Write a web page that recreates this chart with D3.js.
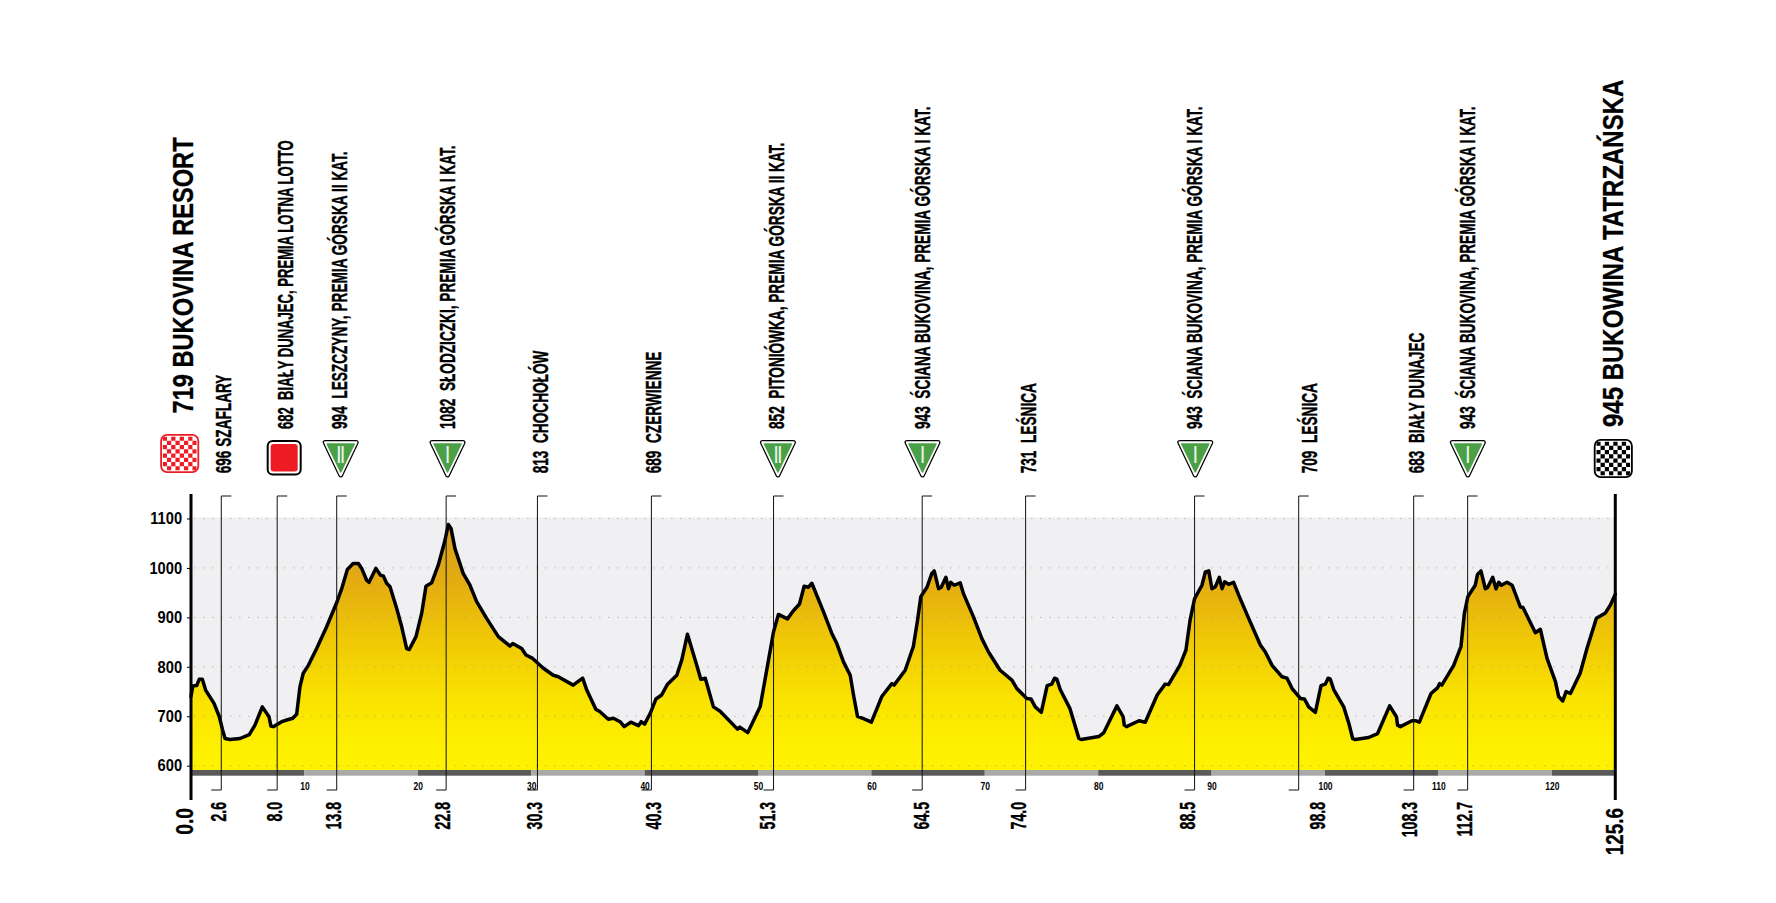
<!DOCTYPE html>
<html>
<head>
<meta charset="utf-8">
<script src="https://cdn.jsdelivr.net/npm/d3@7"></script>
<style>
  body { margin: 0; background: #fff; }
  text { font-family: "Liberation Sans", sans-serif; font-weight: bold; fill: #000; white-space: pre; }
</style>
</head>
<body>
<div id="chart"></div>
<script>
// profile, km / metres
const profileKm = [0,0.15,0.5,0.73,1,1.29,2.03,2.5,2.79,3,3.44,4.32,5.14,5.64,6.29,6.88,7.05,7.26,8,8.52,8.97,9.32,9.61,9.9,10.35,11.08,11.96,12.85,13.29,13.79,14.3,14.76,15.05,15.49,15.7,16.3,16.72,16.96,17.25,17.55,18.14,18.58,19.02,19.25,19.84,20.34,20.72,21.22,21.81,22.4,22.69,22.93,23.28,24,24.6,25.19,26.07,27.1,28.13,28.37,29.16,29.54,30.13,31.07,31.95,32.39,33.7,34.54,34.9,35.7,36.07,36.8,37.25,37.84,38.2,38.78,39.46,39.7,40,40.5,41,41.5,42,42.84,43.28,43.78,44.46,44.96,45.35,46.07,46.66,48.19,48.4,49.1,50.19,50.93,51.37,51.8,52.6,53.1,53.66,54.07,54.45,54.75,55.78,56.5,56.95,57.54,58.13,58.4,58.77,59.3,60,60.92,61.8,62,62.98,63.7,64.07,64.36,64.9,65.33,65.54,65.92,66.16,66.57,66.8,67,67.3,67.83,68.12,69,69.74,70.33,71.35,72.39,72.83,73.7,74.07,74.45,74.98,75.5,75.9,76.15,76.36,76.65,77.5,78.3,78.5,80.05,80.5,81.65,82.2,82.3,82.5,83.6,84.15,85.2,85.9,86.2,87.2,87.74,88.1,88.5,89.15,89.45,89.75,90.03,90.33,90.68,90.92,91.15,91.5,91.94,92.39,93.27,94.3,94.74,95.33,96.2,96.65,97.1,97.83,98.18,98.56,99.15,99.65,100.03,100.27,100.47,100.77,101.65,102.1,102.44,102.67,103.85,104.64,105.7,106.3,106.4,106.65,107.67,107.97,108.32,109.35,109.94,110.1,110.3,111.35,111.99,112.29,112.6,113.25,113.45,113.75,114.14,114.35,114.79,115.08,115.32,115.55,116.05,116.5,117.23,117.46,118.55,118.99,119.58,120.32,120.6,120.97,121.26,121.64,122.5,123.1,123.93,124.73,125.17,125.6];
const profileElev = [740,761,762,775,775,753,726,699,672,655,653,655,663,682,719,699,680,679,689,693,696,704,760,787,803,837,881,930,958,997,1009,1009,999,975,971,999,985,984,969,962,918,881,837,835,861,908,963,970,1006,1056,1088,1080,1039,989,965,932,898,861,842,847,837,824,817,797,783,780,763,777,753,714,709,694,696,689,679,688,681,689,684,706,735,743,764,783,814,866,814,775,777,719,710,674,678,667,719,814,871,906,897,913,927,963,961,969,911,868,847,810,783,746,700,695,688,740,766,763,793,841,894,942,961,989,994,958,961,981,958,971,965,970,948,901,857,830,793,773,756,736,735,719,708,762,765,777,775,754,716,655,653,659,667,721,699,682,679,691,688,743,765,764,803,834,894,938,965,992,994,958,962,981,958,972,967,971,945,898,844,830,803,780,777,756,736,735,719,708,762,765,777,775,754,719,686,655,653,657,665,721,699,682,679,691,691,688,746,758,766,763,803,841,908,942,965,987,994,958,961,981,958,971,965,971,965,921,920,869,876,817,770,740,731,750,746,787,837,898,909,925,947];

const yTicks = [600,700,800,900,1000,1100];
const kmTicks = [10,20,30,40,50,60,70,80,90,100,110,120];
const raceLength = 125.6;

// where the stop lines sit in the picture
const stopKm = [2.67,7.6,12.85,22.5,30.55,40.6,51.37,64.48,73.6,88.5,97.68,107.82,112.58];
const stopKmLabels = ['2.6','8.0','13.8','22.8','30.3','40.3','51.3','64.5','74.0','88.5','98.8','108.3','112.7'];
const stopNames = ['696 SZAFLARY','682  BIAŁY DUNAJEC, PREMIA LOTNA LOTTO','994  LESZCZYNY, PREMIA GÓRSKA II KAT.','1082  SŁODZICZKI, PREMIA GÓRSKA I KAT.','813  CHOCHOŁÓW','689  CZERWIENNE','852  PITONIÓWKA, PREMIA GÓRSKA II KAT.','943  ŚCIANA BUKOVINA, PREMIA GÓRSKA I KAT.','731  LEŚNICA','943  ŚCIANA BUKOVINA, PREMIA GÓRSKA I KAT.','709  LEŚNICA','683  BIAŁY DUNAJEC','943  ŚCIANA BUKOVINA, PREMIA GÓRSKA I KAT.'];
const stopIcons = ['','sprint','II','I','','','II','I','','I','','','I'];
const startLabel = '719 BUKOVINA RESORT';
const finishLabel = '945 BUKOWINA TATRZAŃSKA';

// layout
const W = 1776, H = 903;
const left = 191, right = 1615.3, plotTop = 517.5, plotBottom = 770;
// label nudges from the line, px
const nameDx = [9.4,15.4,10.6,8.7,10.4,9.7,10.7,7.3,10,7.4,18,10,7];
const kmDx = [4.7,5,4.7,3.7,5,9.7,1,6.3,0.3,0.7,26.7,3.3,4.3];
const iconDx = {1:7, 2:4, 3:1.4, 6:4.4, 7:0.3, 9:0.7, 12:0.2};

const x = d3.scaleLinear().domain([0, raceLength]).range([left, right]);
const y = d3.scaleLinear().domain([600, 1100]).range([765.7, 518.5]);

const svg = d3.select('#chart').append('svg').attr('width', W).attr('height', H).style('display', 'block');

const defs = svg.append('defs');
const grad = defs.append('linearGradient').attr('id', 'hill').attr('gradientUnits', 'userSpaceOnUse')
  .attr('x1', 0).attr('x2', 0).attr('y1', y(1090)).attr('y2', y(620));
[[0,'#d69c1c'],[0.25,'#e3ac12'],[0.5,'#efc806'],[0.75,'#f9e200'],[1,'#fff200']].forEach(s => {
  grad.append('stop').attr('offset', s[0]).attr('stop-color', s[1]);
});

svg.append('rect').attr('x', left).attr('y', plotTop).attr('width', right - left).attr('height', plotBottom - plotTop).attr('fill', '#f0f0f2');

const points = profileKm.map((k, i) => [k, profileElev[i]]);
const area = d3.area().x(d => x(d[0])).y0(plotBottom).y1(d => y(d[1]));
const line = d3.line().x(d => x(d[0])).y(d => y(d[1]));

svg.append('path').datum(points).attr('d', area).attr('fill', 'url(#hill)');

// dotted grid goes over the fill
svg.append('g').selectAll('line').data(yTicks).join('line')
  .attr('x1', left + 3).attr('x2', right)
  .attr('y1', d => y(d)).attr('y2', d => y(d))
  .attr('stroke', '#999').attr('stroke-opacity', 0.6).attr('stroke-width', 1).attr('stroke-dasharray', '1.5 7.5');

svg.append('path').datum(points).attr('d', line).attr('fill', 'none').attr('stroke', '#000').attr('stroke-width', 3.5).attr('stroke-linejoin', 'round').attr('stroke-linecap', 'round');

// 10 km bands
svg.append('g').selectAll('rect').data(d3.range(0, 13)).join('rect')
  .attr('x', d => x(d * 10))
  .attr('width', d => x(Math.min((d + 1) * 10, raceLength)) - x(d * 10))
  .attr('y', plotBottom).attr('height', 5.7)
  .attr('fill', d => d % 2 ? '#a9a9a9' : '#5a5a5a');

// stop lines
const stopTop = 496, stopBottom = 790;
svg.append('g').selectAll('path').data(stopKm).join('path')
  .attr('d', d => `M${x(d) + 10},${stopTop}H${x(d)}V${stopBottom}H${x(d) - 10}`)
  .attr('fill', 'none').attr('stroke', '#111').attr('stroke-width', 1);

// axes
const yAxis = svg.append('g').attr('transform', `translate(${left},0)`)
  .call(d3.axisLeft(y).tickValues(yTicks).tickFormat(d3.format('d')).tickSize(4).tickPadding(5));
yAxis.select('.domain').remove();
yAxis.selectAll('text').attr('font-size', 16.5).style('fill', '#000').attr('x', -10).attr('transform', 'scale(0.89,1)');
yAxis.selectAll('line').attr('stroke-width', 1);

const kmAxis = svg.append('g').attr('transform', `translate(0,${plotBottom + 7})`)
  .call(d3.axisBottom(x).tickValues(kmTicks).tickSize(0).tickPadding(6));
kmAxis.select('.domain').remove();
kmAxis.selectAll('text').attr('font-size', 10).style('fill', '#000').attr('transform', 'scale(0.85,1)');

[left, right].forEach(p => {
  svg.append('line').attr('x1', p).attr('x2', p).attr('y1', 494).attr('y2', 800).attr('stroke', '#000').attr('stroke-width', 3);
});

// rotated labels, squeezed because no condensed face is installed
function vtext(px, py, str, size, squeeze, anchor, heavy) {
  return svg.append('text')
    .attr('transform', `translate(${px},${py}) rotate(-90) scale(${squeeze},1)`)
    .attr('font-size', size).attr('text-anchor', anchor || 'start')
    .attr('stroke', '#000').attr('stroke-width', heavy || 0)
    .text(str);
}

stopNames.forEach((s, i) => {
  // the LOTTO label runs a bit tighter than the others
  vtext(x(stopKm[i]) + nameDx[i], stopIcons[i] ? 429 : 473.3, s, 22, i === 1 ? 0.595 : 0.62, 'start', 0.4);
});
stopKmLabels.forEach((s, i) => {
  vtext(x(stopKm[i]) + kmDx[i], 802, s, 22, 0.64, 'end', 0.4);
});
vtext(192.7, 808, '0.0', 23, 0.84, 'end', 0.3);
vtext(1623.3, 808, '125.6', 23, 0.82, 'end', 0.3);
vtext(192.7, 413.5, startLabel, 29, 0.815, 'start', 0.3);
vtext(1622.7, 427, finishLabel, 29, 0.827, 'start', 0.3);

// icons
const triOuter = 'M-15.5,2.5H15.5L0,35Z', triInner = 'M-13.5,4H13.5L0,32Z';
stopIcons.forEach((kind, i) => {
  if (!kind) return;
  const g = svg.append('g').attr('transform', `translate(${x(stopKm[i]) + iconDx[i]},440)`);
  if (kind === 'sprint') {
    g.append('rect').attr('x', -16.5).attr('y', 1).attr('width', 33).attr('height', 33.5).attr('rx', 5).attr('fill', '#fff').attr('stroke', '#000').attr('stroke-width', 2);
    g.append('rect').attr('x', -13.5).attr('y', 4).attr('width', 27).attr('height', 27.5).attr('rx', 3).attr('fill', '#ed1c24');
    return;
  }
  g.append('path').attr('d', triOuter).attr('fill', '#fff').attr('stroke', '#000').attr('stroke-width', 5).attr('stroke-linejoin', 'round');
  g.append('path').attr('d', triOuter).attr('fill', '#fff').attr('stroke', '#fff').attr('stroke-width', 2.5).attr('stroke-linejoin', 'round');
  g.append('path').attr('d', triInner).attr('fill', '#4aa047').attr('stroke', '#4aa047').attr('stroke-width', 1.5).attr('stroke-linejoin', 'round');
  g.append('text').attr('text-anchor', 'middle').attr('transform', 'translate(0,23) scale(0.55,1)').attr('font-size', 24).style('fill', '#e8f3e6').text(kind);
});

function checker(cx, top, colour, clipId) {
  const size = 39, n = 8, inset = 2.5;
  const g = svg.append('g').attr('transform', `translate(${cx - size / 2},${top})`);
  defs.append('clipPath').attr('id', clipId).append('rect').attr('x', inset).attr('y', inset).attr('width', size - 2 * inset).attr('height', size - 2 * inset).attr('rx', 3);
  const cell = (size - 2 * inset) / n;
  const cells = d3.cross(d3.range(n), d3.range(n)).filter(d => (d[0] + d[1]) % 2 === 0);
  g.append('rect').attr('width', size).attr('height', size).attr('rx', 6).attr('fill', '#fff');
  g.append('g').attr('clip-path', `url(#${clipId})`).selectAll('rect').data(cells).join('rect')
    .attr('x', d => inset + d[0] * cell).attr('y', d => inset + d[1] * cell)
    .attr('width', cell).attr('height', cell).attr('fill', colour);
  g.append('rect').attr('x', 0.9).attr('y', 0.9).attr('width', size - 1.8).attr('height', size - 1.8).attr('rx', 6).attr('fill', 'none').attr('stroke', colour).attr('stroke-width', 1.8);
}
checker(179.7, 434, '#ed1c24', 'chk-start');
checker(1613.3, 439, '#000', 'chk-end');
</script>
</body>
</html>
